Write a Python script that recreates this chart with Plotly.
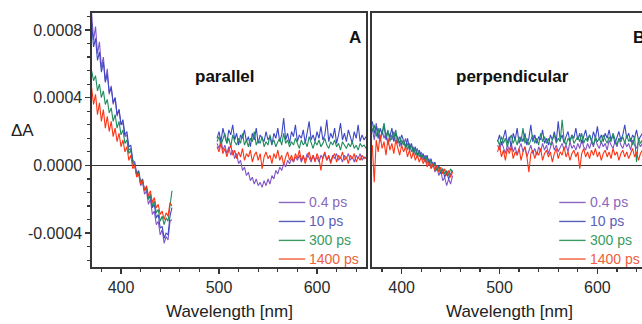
import plotly.graph_objects as go

# ---------------- data (ΔA in units of 1e-5) ----------------
wl_short = list(range(370, 453, 2))   # 42 points
wl_long = list(range(498, 651, 2))    # 77 points
delays = ["0.4 ps", "10 ps", "300 ps", "1400 ps"]
line_colors = ["#7f55c8", "#3d48c4", "#1f8c5e", "#ff3414"]
text_colors = ["#8a68c0", "#5a60b8", "#3a9a62", "#f0603a"]
y_tickvals = [-0.0004, 0.0, 0.0004, 0.0008]
y_ticktext = ["-0.0004", "0.0000", "0.0004", "0.0008"]
x_tickvals = [400, 500, 600]
UNIT = 1e-5

# panel A (parallel), short-wavelength segment
par_short_04 = [90, 74, 82, 66, 73, 58, 64, 50, 57, 42, 47, 36, 40, 29, 33, 24, 25, 17, 18, 9,
                10, 2, 1, -6, -4, -12, -10, -17, -15, -23, -20, -29, -27, -35, -33, -41, -38, -46, -42, -44,
                -33, -32]
par_short_10 = [84, 70, 75, 62, 67, 55, 61, 49, 54, 43, 46, 37, 40, 30, 33, 24, 27, 18, 20, 11,
                12, 3, 2, -5, -3, -10, -8, -15, -13, -20, -18, -25, -23, -31, -29, -37, -36, -43, -40, -41,
                -30, -25]
par_short_300 = [56, 50, 53, 44, 48, 40, 44, 36, 39, 31, 34, 26, 30, 22, 26, 18, 21, 13, 15, 7,
                 9, 1, 0, -6, -4, -10, -9, -15, -13, -20, -17, -24, -21, -28, -26, -33, -30, -35, -31, -33,
                 -24, -15]
par_short_1400 = [46, 36, 42, 30, 37, 26, 33, 22, 29, 20, 26, 17, 22, 14, 19, 11, 15, 8, 11, 3,
                  6, -2, 0, -7, -5, -11, -9, -15, -12, -18, -15, -22, -19, -25, -23, -29, -27, -32, -28, -30,
                  -22, -24]

# panel A (parallel), long-wavelength segment
par_long_04 = [13, 10, 15, 9, 12, 7, 11, 6, 9, 4,
               7, 1, 3, -3, -1, -6, -4, -9, -7, -11,
               -8, -12, -10, -13, -9, -12, -8, -11, -6, -8,
               -3, -5, -1, -3, 1, -1, 3, 1, 4, 2,
               5, 3, 6, 2, 5, 3, 7, 4, 2, 6,
               3, 5, 2, 6, 4, 7, 3, 5, 2, 6,
               4, 7, 3, 5, 2, 6, 4, 7, 3, 5,
               2, 6, 4, 7, 3, 5, 4]
par_long_10 = [16, 20, 14, 22, 17, 13, 21, 18, 24, 15,
               19, 12, 18, 16, 21, 14, 17, 11, 19, 15,
               22, 13, 18, 16, 14, 20, 15, 17, 12, 19,
               16, 22, 14, 18, 28, 15, 19, 13, 20, 17,
               24, 14, 18, 16, 21, 13, 19, 26, 15, 18,
               14, 20, 16, 23, 15, 18, 27, 14, 19, 16,
               22, 13, 18, 25, 15, 19, 14, 21, 17, 13,
               20, 16, 24, 14, 18, 15, 17]
par_long_300 = [14, 17, 12, 15, 19, 13, 16, 11, 18, 14,
                12, 16, 13, 19, 12, 15, 11, 16, 14, 20,
                12, 15, 13, 17, 11, 14, 12, 18, 13, 15,
                11, 14, 16, 12, 19, 13, 15, 11, 14, 12,
                16, 13, 10, 15, 12, 14, 11, 17, 13, 10,
                14, 12, 15, 11, 13, 16, 12, 10, 14, 12,
                15, 11, 13, 9, 14, 12, 10, 13, 11, 14,
                10, 12, 9, 13, 11, 12, 10]
par_long_1400 = [11, 8, 13, 7, 10, 5, 9, 12, 6, 9,
                 4, 8, 5, 10, 3, 7, 5, 9, 2, 6,
                 8, 3, 7, -2, 5, 8, 4, 6, 1, 7,
                 4, 9, 3, 6, 0, 5, 8, 3, 6, 2,
                 7, 4, 9, 3, 6, 1, 5, 8, 3, 6,
                 2, 7, 4, -3, 5, 8, 3, 6, 1, 5,
                 7, 2, 6, 4, 8, 3, 5, 1, 6, 4,
                 7, 2, 5, 3, 6, 4, 5]

# panel B (perpendicular), short-wavelength segment
perp_short_04 = [22, 15, 25, 18, 14, 21, 16, 19, 12, 18, 15, 20, 13, 17, 11, 15, 12, 16, 9, 13,
                 8, 11, 6, 10, 5, 8, 3, 6, 1, 4, -1, 2, -4, -1, -6, -3, -9, -7, -12, -8,
                 -11, -6]
perp_short_10 = [26, 19, 23, 16, 22, 18, 24, 15, 20, 17, 22, 14, 19, 16, 13, 18, 14, 11, 16, 10,
                 13, 8, 11, 6, 9, 5, 7, 3, 6, 1, 4, -1, 2, -3, 0, -5, -2, -7, -4, -8,
                 -5, -3]
perp_short_300 = [20, 24, 17, 22, 15, 19, 25, 17, 21, 14, 18, 16, 21, 13, 17, 12, 15, 10, 13, 9,
                  12, 7, 10, 5, 8, 4, 6, 2, 5, 0, 3, -1, 1, -3, -1, -4, -2, -5, -3, -6,
                  -2, -4]
perp_short_1400 = [12, -10, 15, 8, 18, 10, 14, 6, 16, 9, 13, 7, 15, 10, 6, 12, 8, 11, 5, 9,
                   4, 8, 3, 6, 2, 5, 1, 4, -1, 2, -2, 1, -3, 0, -4, -1, -5, -2, -6, -3,
                   -7, -4]

# panel B (perpendicular), long-wavelength segment
perp_long_04 = [12, 9, 14, 10, 7, 12, 9, 13, 8, 11,
                6, 10, 13, 8, 11, 5, 9, 12, 7, 10,
                6, 11, 8, 13, 9, 12, 7, 10, 14, 9,
                12, 8, 11, 13, 9, 12, 8, 14, 10, 12,
                9, 13, 10, 15, 11, 9, 13, 10, 14, 11,
                16, 12, 10, 14, 11, 13, 9, 15, 12, 10,
                14, 11, 16, 12, 10, 14, 11, 13, 9, 15,
                12, 10, 14, 11, 13, 10, 12]
perp_long_10 = [14, 18, 12, 16, 21, 13, 17, 11, 19, 15,
                22, 13, 17, 14, 19, 12, 16, 24, 14, 18,
                13, 17, 15, 21, 13, 16, 12, 18, 15, 20,
                14, 26, 15, 18, 13, 17, 20, 14, 18, 16,
                22, 15, 19, 13, 17, 21, 15, 18, 14, 20,
                16, 23, 15, 18, 14, 19, 16, 21, 15, 18,
                13, 17, 20, 15, 18, 24, 16, 19, 14, 18,
                16, 21, 15, 17, 19, 14, 17]
perp_long_300 = [15, 12, 17, 13, 16, 11, 15, 18, 13, 16,
                 12, 17, 14, 22, 13, 16, 12, 15, 18, 13,
                 16, 12, 19, 14, 17, 13, 16, 12, 15, 18,
                 13, 16, 14, 27, 15, 12, 16, 14, 18, 13,
                 15, 17, 14, 19, 13, 16, 14, 18, 15, 12,
                 17, 14, 16, 13, 18, 15, 13, 17, 14, 19,
                 15, 12, 16, 14, 17, 13, 18, 14, 16, 12,
                 17, 2, 16, 13, 15, 12, 14]
perp_long_1400 = [8, 12, 5, 9, 3, 10, 7, 11, 4, 8,
                  6, 10, 3, 8, 11, 5, -4, 7, 9, 4,
                  8, 6, 10, 3, 7, 9, 5, 8, 2, 7,
                  10, 4, 8, 6, 11, 5, 8, 3, 7, 9,
                  5, 8, -2, 7, 10, 5, 8, 4, 9, 6,
                  10, 5, 8, 3, 7, 9, 5, 8, 4, 10,
                  6, 8, 3, 7, 9, 5, 8, 4, 7, 10,
                  5, 8, 3, 7, 9, 5, 7]

par_short = [par_short_04, par_short_10, par_short_300, par_short_1400]
par_long = [par_long_04, par_long_10, par_long_300, par_long_1400]
perp_short = [perp_short_04, perp_short_10, perp_short_300, perp_short_1400]
perp_long = [perp_long_04, perp_long_10, perp_long_300, perp_long_1400]

# ---------------- figure ----------------
FONT = "Liberation Sans, Arial, Helvetica, sans-serif"
AX = "#363636"
W, H = 642, 324


def px(x):   # window pixel -> paper x
    return x / W


def py(y):   # window pixel -> paper y
    return (H - y) / H


fig = go.Figure()


def add_panel(shorts, longs, xa, ya):
    for name, col, s, l in zip(delays, line_colors, shorts, longs):
        xs = wl_short + [None] + wl_long
        ys = [v * UNIT for v in s] + [None] + [v * UNIT for v in l]
        fig.add_trace(go.Scatter(x=xs, y=ys, mode="lines", name=name,
                                 line=dict(color=col, width=1.1),
                                 xaxis=xa, yaxis=ya, showlegend=False,
                                 connectgaps=False, hoverinfo="skip"))


add_panel(par_short, par_long, "x", "y")
add_panel(perp_short, perp_long, "x2", "y2")

ydom = [py(267), py(13)]
common_x = dict(showline=True, linecolor=AX, linewidth=1.6, ticks="outside",
                ticklen=5, tickwidth=1.5, tickcolor=AX, tickvals=x_tickvals,
                showgrid=False, zeroline=False,
                tickfont=dict(family=FONT, size=16, color="#2a2a2a"),
                minor=dict(dtick=20, tick0=0, ticks="outside", ticklen=3,
                           tickwidth=1.2, tickcolor=AX, showgrid=False))
common_y = dict(showline=True, linecolor=AX, linewidth=1.6, showgrid=False,
                zeroline=True, zerolinecolor=AX, zerolinewidth=1.6,
                range=[-0.0006, 0.0009], domain=ydom)

fig.update_layout(
    width=W, height=H, margin=dict(l=0, r=0, t=0, b=0),
    paper_bgcolor="white", plot_bgcolor="white", showlegend=False,
    hovermode=False,
    xaxis=dict(domain=[px(92), px(366)], range=[370.4, 650], mirror=True,
               anchor="y", **common_x),
    yaxis=dict(anchor="x", mirror=True, ticks="outside", ticklen=5, tickwidth=1.5,
               tickcolor=AX, tickvals=y_tickvals, ticktext=y_ticktext,
               tickfont=dict(family=FONT, size=16, color="#2a2a2a"),
               minor=dict(dtick=0.00008, tick0=0, ticks="outside", ticklen=3,
                          tickwidth=1.2, tickcolor=AX, showgrid=False),
               **common_y),
    xaxis2=dict(domain=[px(372), 1.0], range=[369.7, 645.6], mirror=True,
                anchor="y2", **common_x),
    yaxis2=dict(anchor="x2", mirror=False, ticks="", showticklabels=False,
                **common_y),
)

ann = []


def txt(x, y, s, size, xref="paper", yref="paper", color="#111", bold=False,
        xanchor="center"):
    ann.append(dict(x=x, y=y, xref=xref, yref=yref, text=f"<b>{s}</b>" if bold else s,
                    showarrow=False, xanchor=xanchor, yanchor="middle",
                    font=dict(family=FONT, size=size, color=color)))


txt(px(23), py(130), "ΔA", 17, color="#222")
txt(px(229), py(311), "Wavelength [nm]", 17, color="#222")
txt(px(509), py(311), "Wavelength [nm]", 17, color="#222")
txt(px(225), py(77), "parallel", 17, bold=True)
txt(px(512), py(76), "perpendicular", 17, bold=True)
txt(px(355), py(38), "A", 17, bold=True)
txt(px(631), py(38), "B", 17, bold=True, xanchor="left")

legend_rows = [-0.000219, -0.000331, -0.000443, -0.000553]
shapes = []
for xr, yr in [("x", "y"), ("x2", "y2")]:
    for name, tc, yy in zip(delays, text_colors, legend_rows):
        shapes.append(dict(type="line", xref=xr, yref=yr, x0=561, x1=588, y0=yy, y1=yy,
                           line=dict(color=tc, width=1.4)))
        txt(590, yy, name, 14, xref=xr, yref=yr, color=tc, xanchor="left")

fig.update_layout(annotations=ann, shapes=shapes)
fig.write_html("out.html",
               config={"displayModeBar": False, "staticPlot": True},
               post_script="document.body.style.margin='0';"
                           "document.body.style.overflow='hidden';")
